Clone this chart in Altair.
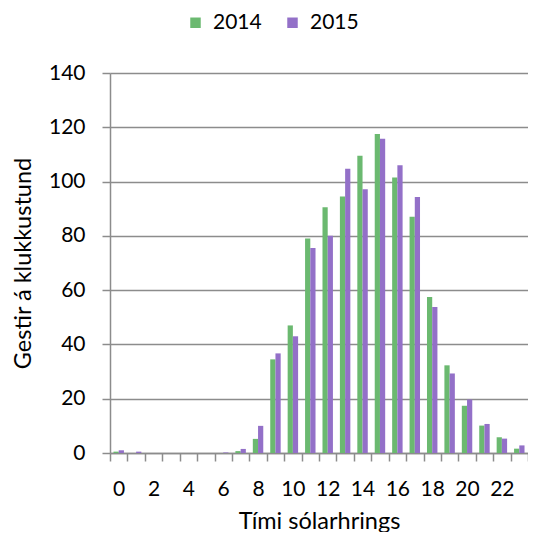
import altair as alt
import pandas as pd

hours = list(range(24))
years = ["2014", "2015"]
y2014 = [0.5, 0, 0, 0, 0, 0, 0, 0.7, 5.2, 34.5, 47, 79, 90.5, 94.5, 109.5, 117.5,
         101.5, 87, 57.5, 32.3, 17.4, 10.1, 5.8, 1.6]
y2015 = [1.0, 0.5, 0, 0, 0, 0, 0.2, 1.5, 10, 36.7, 43, 75.5, 80, 104.7, 97.2, 115.8,
         106, 94.3, 53.8, 29.3, 19.7, 10.7, 5.3, 2.8]
y_ticks = [0, 20, 40, 60, 80, 100, 120, 140]

rows = []
for h, a, b in zip(hours, y2014, y2015):
    rows.append({"hour": h, "year": years[0], "value": a})
    rows.append({"hour": h, "year": years[1], "value": b})
df = pd.DataFrame(rows)

font = "Lato"
gray = "#8c8c8c"
green = "#6bb970"
purple = "#9370c8"

chart = alt.Chart(df).mark_bar().encode(
    x=alt.X(
        "hour:O",
        scale=alt.Scale(paddingInner=0, paddingOuter=0),
        axis=alt.Axis(
            title="Tími sólarhrings",
            labelAngle=0,
            labelExpr="datum.value % 2 == 0 ? datum.label : ''",
            tickBand="extent",
            grid=False,
            domainColor=gray,
            domainWidth=1.5,
            tickColor=gray,
            tickWidth=1.5,
            tickSize=8,
            labelFont=font,
            labelFontSize=21,
            labelColor="#000000",
            labelBaseline="alphabetic",
            labelPadding=34,
            titleFont=font,
            titleFontSize=23.5,
            titleFontWeight="normal",
            titleColor="#000000",
            titleBaseline="alphabetic",
            titleY=75,
        ),
    ),
    xOffset=alt.XOffset("year:N", scale=alt.Scale(paddingInner=0, paddingOuter=0.667)),
    y=alt.Y(
        "value:Q",
        scale=alt.Scale(domain=[0, 140], nice=False),
        axis=alt.Axis(
            title="Gestir á klukkustund",
            values=y_ticks,
            grid=True,
            gridColor=gray,
            gridWidth=1.5,
            domainColor=gray,
            domainWidth=1.5,
            tickColor=gray,
            tickWidth=1.5,
            tickSize=8,
            labelFont=font,
            labelFontSize=21,
            labelColor="#000000",
            labelPadding=17,
            titleFont=font,
            titleFontSize=23.5,
            titleFontWeight="normal",
            titleColor="#000000",
            titlePadding=13,
        ),
    ),
    color=alt.Color(
        "year:N",
        scale=alt.Scale(domain=years, range=[green, purple]),
        legend=alt.Legend(
            title=None,
            orient="none",
            direction="horizontal",
            legendX=75,
            legendY=-61,
            symbolType="square",
            symbolSize=110,
            symbolStrokeWidth=0,
            labelFont=font,
            labelFontSize=21,
            labelColor="#000000",
            labelOffset=7,
            columnPadding=20,
        ),
    ),
).properties(
    width=418,
    height=380,
    autosize=alt.AutoSizeParams(type="none"),
    padding={"left": 102, "top": 65, "right": 0, "bottom": 79},
).configure_view(stroke=None)

chart.save("out.html", embed_options={"renderer": "svg", "actions": False})
